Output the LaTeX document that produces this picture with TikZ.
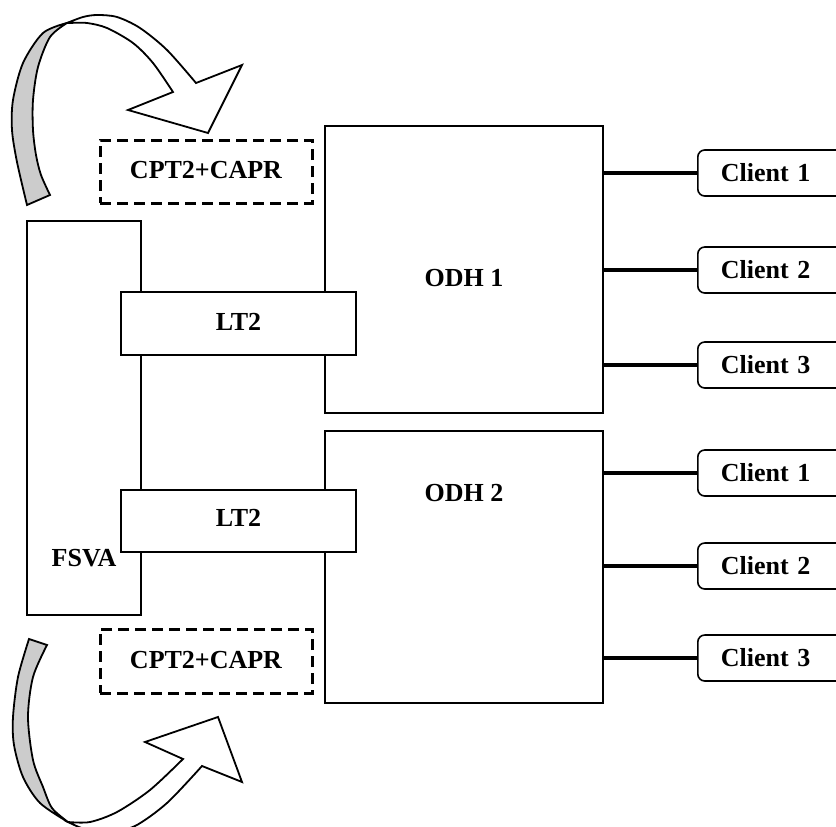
\documentclass[tikz,border=0pt]{standalone}
\usepackage{fontspec}
\setmainfont{Liberation Serif}
\begin{document}
\begin{tikzpicture}[x=1pt,y=-1pt,
  box/.style={draw, line width=2pt, fill=white, inner sep=0pt},
  lbl/.style={font=\fontsize{26}{30}\selectfont\bfseries, inner sep=0pt},
  dbox/.style={draw, line width=3pt, dash pattern=on 11pt off 6pt, inner sep=0pt},
  client/.style={draw, line width=1.6pt, rounded corners=7pt, fill=white, anchor=west,
    minimum height=46pt, text width=114pt, inner xsep=23pt, inner ysep=0pt, align=left,
    font=\fontsize{26}{30}\selectfont\bfseries},
  link/.style={line width=3.5pt},
  arrowline/.style={line width=1.8pt, line join=miter}
]
\path[use as bounding box, clip] (0,0) rectangle (836,827);

% upper curved arrow
\filldraw[arrowline, fill=gray!40]
  plot[smooth] coordinates {(67,23) (43,33) (23,63) (13,100) (12,130) (17,162) (27,205)}
  -- plot[smooth] coordinates {(50,195) (41,175) (36,155) (33,130) (33,100) (38,67) (50,37) (67,23)}
  -- cycle;
\filldraw[arrowline, fill=white]
  plot[smooth] coordinates {(67,23) (83,17) (97,15) (117,17) (140,28) (167,50) (196,83)}
  -- (242,65) -- (208,133) -- (128,110) -- (173,92)
  -- plot[smooth] coordinates {(173,92) (153,63) (133,43) (107,28) (87,23) (70,23)}
  -- cycle;

% lower curved arrow
\filldraw[arrowline, fill=gray!40]
  plot[smooth] coordinates {(29,639) (18,677) (13,717) (14,745) (23,777) (40,803) (68,822)}
  -- plot[smooth] coordinates {(68,822) (52,808) (43,787) (33,760) (28,717) (33,677) (47,645)}
  -- cycle;
\filldraw[arrowline, fill=white]
  plot[smooth] coordinates {(68,822) (90,822) (117,812) (150,790) (183,759)}
  -- (145,742) -- (218,717) -- (242,782) -- (202,766)
  -- plot[smooth] coordinates {(202,766) (167,803) (135,826) (110,831) (85,829) (68,822)}
  -- cycle;

% main boxes
\node[box, minimum width=114pt, minimum height=394pt] (fsva) at (84,418) {};
\node[lbl] (fsvalbl) at (84,558) {FSVA};
\node[box, minimum width=278pt, minimum height=287pt] (odh1) at (464,269.5) {};
\node[lbl] (odh1lbl) at (464,278) {ODH 1};
\node[box, minimum width=278pt, minimum height=272pt] (odh2) at (464,567) {};
\node[lbl] (odh2lbl) at (464,493) {ODH 2};
\node[box, minimum width=235pt, minimum height=63pt] (lt2a) at (238.5,323.5) {};
\node[lbl] (lt2alb) at (238.5,322) {LT2};
\node[box, minimum width=235pt, minimum height=62pt] (lt2b) at (238.5,521) {};
\node[lbl] (lt2blb) at (238.5,518) {LT2};

% dashed boxes
\node[dbox, minimum width=212pt, minimum height=63pt] (cpta) at (206,171.5) {};
\node[lbl] (cptalb) at (206,170) {CPT2+CAPR};
\node[dbox, minimum width=212pt, minimum height=64pt] (cptb) at (206,661) {};
\node[lbl] (cptblb) at (206,660) {CPT2+CAPR};

% clients
\node[client] (c1) at (697,173) {Client 1};
\node[client] (c2) at (697,270) {Client 2};
\node[client] (c3) at (697,365) {Client 3};
\node[client] (c4) at (697,473) {Client 1};
\node[client] (c5) at (697,566) {Client 2};
\node[client] (c6) at (697,658) {Client 3};

\foreach \c in {c1,c2,c3} \draw[link] (odh1.east |- \c.west) -- (\c.west);
\foreach \c in {c4,c5,c6} \draw[link] (odh2.east |- \c.west) -- (\c.west);
\end{tikzpicture}
\end{document}
